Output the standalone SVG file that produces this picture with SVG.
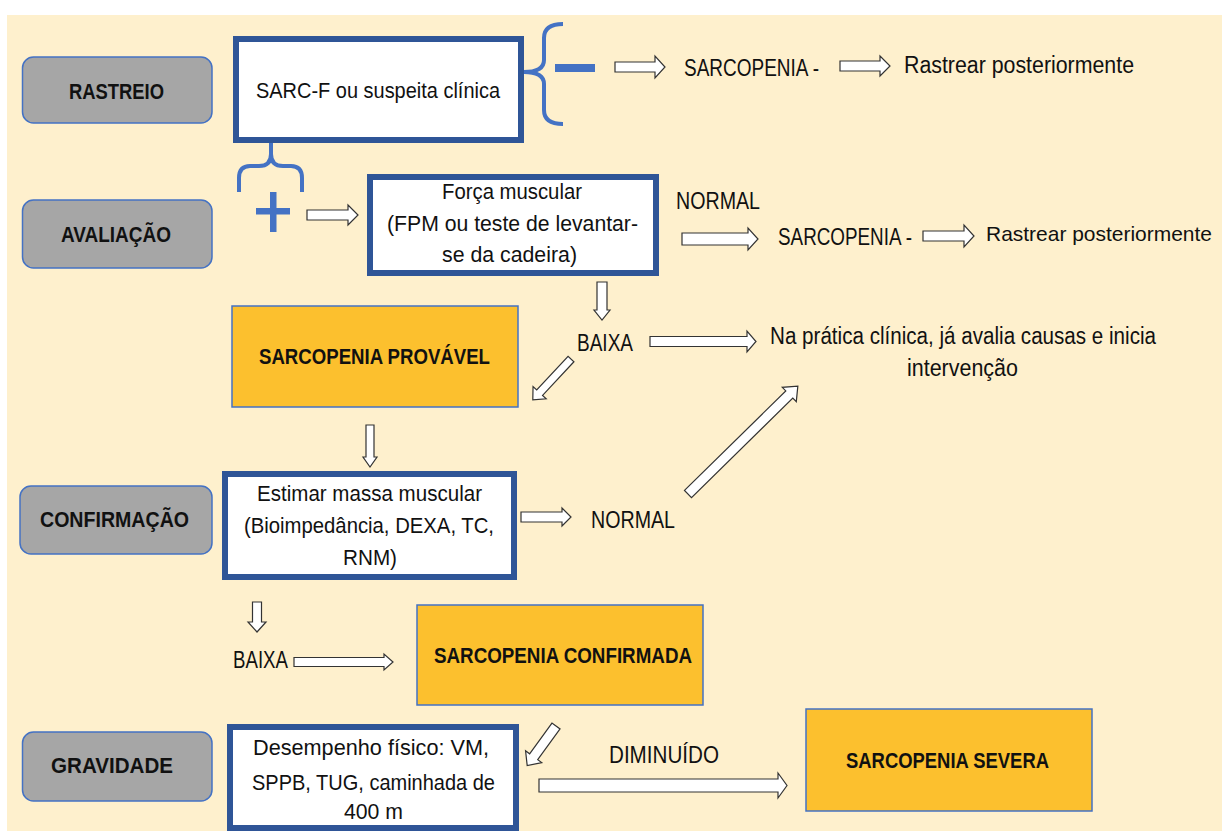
<svg xmlns="http://www.w3.org/2000/svg" width="1222" height="831" viewBox="0 0 1222 831">
<style>
text{font-family:"Liberation Sans",Arial,sans-serif;fill:#111;}
.lbl{font-weight:bold;font-size:22.5px;}
.t{font-size:22.5px;}
.r{font-size:23px;}
.gray{fill:#a6a6a6;stroke:#4472c4;stroke-width:1.5;}
.thick{fill:#ffffff;stroke:#2f5597;stroke-width:6;}
.org{fill:#fcc02e;stroke:#4472c4;stroke-width:1.5;}
.arr{fill:#ffffff;stroke:#333;stroke-width:1.2;stroke-linejoin:miter;}
.brace{fill:none;stroke:#4472c4;stroke-width:4;stroke-linecap:butt;}
.sign{fill:#4472c4;}
</style>
<rect x="0" y="0" width="1222" height="831" fill="#ffffff"/>
<rect x="7" y="15" width="1215" height="816" fill="#fef0cd"/>

<g id="rastreio"><rect class="gray" x="22.5" y="57" width="189.5" height="66" rx="11"/><text class="lbl" x="69" y="99" textLength="95" lengthAdjust="spacingAndGlyphs">RASTREIO</text></g>
<g id="avaliacao"><rect class="gray" x="22.5" y="200" width="189.5" height="68" rx="11"/><text class="lbl" x="61" y="242" textLength="110" lengthAdjust="spacingAndGlyphs">AVALIAÇÃO</text></g>
<g id="confirmacao"><rect class="gray" x="20" y="486" width="192" height="68" rx="11"/><text class="lbl" x="40" y="527" textLength="149" lengthAdjust="spacingAndGlyphs">CONFIRMAÇÃO</text></g>
<g id="gravidade"><rect class="gray" x="22.5" y="732" width="189.5" height="69" rx="11"/><text class="lbl" x="51" y="773" textLength="122" lengthAdjust="spacingAndGlyphs">GRAVIDADE</text></g>

<g id="sarcf"><rect class="thick" x="236" y="39" width="285" height="101"/><text class="t" x="256" y="98" textLength="244" lengthAdjust="spacingAndGlyphs">SARC-F ou suspeita clínica</text></g>
<g id="forca"><rect class="thick" x="370" y="177" width="286" height="96"/>
<text class="t" x="442" y="199" textLength="140" lengthAdjust="spacingAndGlyphs">Força muscular</text>
<text class="t" x="387" y="231" textLength="251" lengthAdjust="spacingAndGlyphs">(FPM ou teste de levantar-</text>
<text class="t" x="442" y="262" textLength="135" lengthAdjust="spacingAndGlyphs">se da cadeira)</text></g>
<g id="estimar"><rect class="thick" x="225" y="474" width="289" height="103"/>
<text class="t" x="257" y="501" textLength="225" lengthAdjust="spacingAndGlyphs">Estimar massa muscular</text>
<text class="t" x="244" y="533" textLength="250" lengthAdjust="spacingAndGlyphs">(Bioimpedância, DEXA, TC,</text>
<text class="t" x="343" y="565" textLength="54" lengthAdjust="spacingAndGlyphs">RNM)</text></g>
<g id="desempenho"><rect class="thick" x="230" y="727" width="286" height="101"/>
<text class="t" x="253" y="755" textLength="236" lengthAdjust="spacingAndGlyphs">Desempenho físico: VM,</text>
<text class="t" x="252" y="790" textLength="243" lengthAdjust="spacingAndGlyphs">SPPB, TUG, caminhada de</text>
<text class="t" x="344" y="819" textLength="59" lengthAdjust="spacingAndGlyphs">400 m</text></g>

<g id="provavel"><rect class="org" x="232" y="306" width="286" height="101"/><text class="lbl" x="259" y="364" textLength="231" lengthAdjust="spacingAndGlyphs">SARCOPENIA PROVÁVEL</text></g>
<g id="confirmada"><rect class="org" x="417" y="605" width="286" height="100"/><text class="lbl" x="434" y="663" textLength="258" lengthAdjust="spacingAndGlyphs">SARCOPENIA CONFIRMADA</text></g>
<g id="severa"><rect class="org" x="806" y="709" width="286" height="102"/><text class="lbl" x="846" y="768" textLength="203" lengthAdjust="spacingAndGlyphs">SARCOPENIA SEVERA</text></g>

<g id="labels">
<text class="r" x="684" y="76" textLength="135" lengthAdjust="spacingAndGlyphs">SARCOPENIA -</text>
<text class="r" x="904" y="73" textLength="230" lengthAdjust="spacingAndGlyphs">Rastrear posteriormente</text>
<text class="r" x="676" y="209" textLength="84" lengthAdjust="spacingAndGlyphs">NORMAL</text>
<text class="r" x="778" y="245" textLength="134" lengthAdjust="spacingAndGlyphs">SARCOPENIA -</text>
<text x="986" y="241" font-size="21" textLength="226" lengthAdjust="spacingAndGlyphs">Rastrear posteriormente</text>
<text class="r" x="577" y="351" textLength="56" lengthAdjust="spacingAndGlyphs">BAIXA</text>
<text class="r" x="770" y="344" textLength="386" lengthAdjust="spacingAndGlyphs">Na prática clínica, já avalia causas e inicia</text>
<text class="r" x="907" y="376" textLength="111" lengthAdjust="spacingAndGlyphs">intervenção</text>
<text class="r" x="591" y="528" textLength="84" lengthAdjust="spacingAndGlyphs">NORMAL</text>
<text class="r" x="233" y="668" textLength="55" lengthAdjust="spacingAndGlyphs">BAIXA</text>
<text class="r" x="609" y="763" textLength="110" lengthAdjust="spacingAndGlyphs">DIMINUÍDO</text>
</g>

<g id="connectors">
<path class="brace" d="M563,24 Q544,24 544,38 L544,60 Q544,72 524,72 Q544,72 544,84 L544,110 Q544,124 563,124"/>
<rect class="sign" x="555" y="64" width="40" height="8"/>
<path class="brace" d="M271,143 L271,154 Q271,166 259,166 L250,166 Q239,166 239,178 L239,192 M271,154 Q271,166 283,166 L291,166 Q302,166 302,178 L302,192"/>
<rect class="sign" x="270" y="192" width="6.5" height="40"/>
<rect class="sign" x="256" y="208" width="34" height="6.5"/>
<path class="arr" d="M307,210 L348,210 L348,205 L358,215 L348,225 L348,220 L307,220 Z"/>
<path class="arr" d="M615,62 L655,62 L655,56 L665,67 L655,78 L655,72 L615,72 Z"/>
<path class="arr" d="M840,61 L880,61 L880,56 L890,66 L880,76 L880,71 L840,71 Z"/>
<path class="arr" d="M682,233 L748,233 L748,228 L758,239 L748,250 L748,245 L682,245 Z"/>
<path class="arr" d="M923,231 L964,231 L964,225 L974,236 L964,247 L964,241 L923,241 Z"/>
<path class="arr" d="M597,282 L607,282 L607,310 L610,310 L602,320 L594,310 L597,310 Z"/>
<path class="arr" d="M650,336.5 L747,336.5 L747,331 L756,341.5 L747,352 L747,346.5 L650,346.5 Z"/>
<path class="arr" transform="translate(571,359) rotate(133)" d="M0,-4 L46,-4 L46,-9 L56,0 L46,9 L46,4 L0,4 Z"/>
<path class="arr" d="M366,425 L374,425 L374,457 L377,457 L370,467 L363,457 L366,457 Z"/>
<path class="arr" d="M521,512 L562,512 L562,508 L571,517 L562,526 L562,522 L521,522 Z"/>
<path class="arr" transform="translate(688,494) rotate(-44.5)" d="M0,-5 L142,-5 L142,-10 L154,0 L142,10 L142,5 L0,5 Z"/>
<path class="arr" d="M252.5,602 L261.5,602 L261.5,622 L266,622 L257,632 L248,622 L252.5,622 Z"/>
<path class="arr" d="M294,657.5 L384,657.5 L384,654 L393,662 L384,670 L384,666.5 L294,666.5 Z"/>
<path class="arr" transform="translate(556,726) rotate(126)" d="M0,-5 L38,-5 L38,-10 L49,0 L38,10 L38,5 L0,5 Z"/>
<path class="arr" d="M539,779 L778,779 L778,773 L787,785.5 L778,798 L778,792 L539,792 Z"/>
</g>
</svg>
